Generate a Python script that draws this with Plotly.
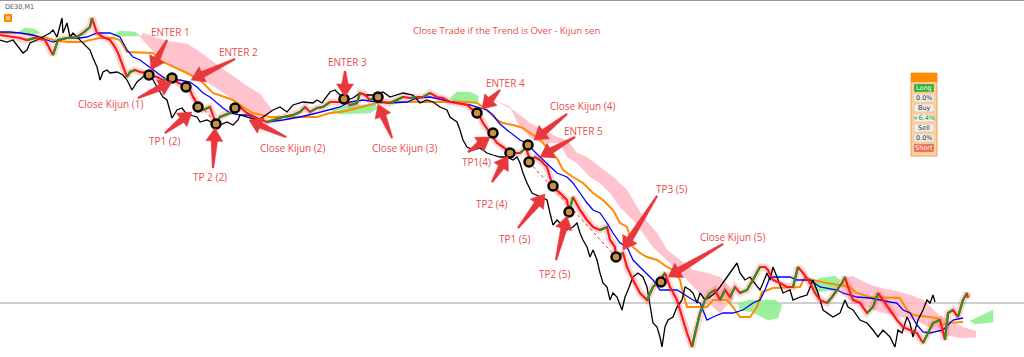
import math
import plotly.graph_objects as go

# ---------------- data (x = bar position, y = price level in chart units, top = 0) -------------
chikou = [(0,40),(7,42),(13,40),(18,47),(23,53),(27,50),(30,43),(37,40),(50,33),(53,30),(57,37),(62,18),
          (63,33),(67,23),(70,37),(73,33),(80,40),(83,42),(87,47),(90,50),(93,58),(97,67),(100,80),(103,72),
          (107,70),(110,73),(117,72),(123,75),(127,80),(132,90),(137,82),(143,77),(147,75),(152,78),(157,87),
          (163,97),(167,100),(170,110),(172,118),(177,110),(182,108),(185,112),(190,115),(197,117),(200,122),
          (207,120),(213,123),(220,125),(227,122),(233,125),(238,120),(240,115),(250,118),(257,120),(263,117),
          (273,110),(280,107),(287,112),(293,105),(303,102),(313,103),(317,100),(322,103),(330,92),(335,90),
          (340,95),(347,100),(353,98),(360,93),(367,95),(373,95),(380,93),(383,92),(390,97),(397,95),(403,93),
          (413,95),(420,103),(427,100),(433,102),(440,107),(447,110),(450,117),(457,122),(460,130),(463,140),
          (467,147),(473,150),(480,148),(487,153),(493,155),(500,157),(507,157),(513,160),(517,157),(520,163),
          (523,173),(527,183),(532,193),(540,197),(547,200),(550,213),(553,225),(557,220),(560,223),(567,230),
          (573,227),(577,223),(580,233),(583,240),(587,247),(590,257),(593,250),(597,260),(600,273),(603,283),
          (607,287),(610,300),(613,293),(617,297),(622,310),(625,297),(628,290),(633,277),(638,273),(643,277),
          (647,287),(650,307),(653,323),(657,327),(660,337),(662,347),(665,327),(668,320),(673,317),(677,307),
          (682,300),(685,287),(690,290),(693,293),(697,303),(700,293),(705,300),(710,297),(715,293),(720,287),
          (727,277),(732,270),(737,263),(740,273),(745,280),(750,277),(757,287),(760,290),(763,283),(767,273),
          (770,280),(773,267),(777,277),(783,293),(790,290),(793,300),(800,297),(807,295),(813,280),(818,293),
          (823,310),(827,313),(833,317),(840,313),(845,300),(848,307),(853,310),(860,320),(867,323),(873,330),
          (878,337),(883,330),(890,337),(895,347),(898,330),(902,333),(907,317),(910,323),(913,337),(918,320),
          (923,310),(927,300),(930,303),(933,295),(935,302)]

price = [(0,35),(7,36),(13,37),(20,38),(27,40),(35,38),(45,40),(53,55),(58,40),(67,38),(77,37),(83,33),
         (90,27),(92,18),(97,33),(103,37),(110,40),(115,47),(118,53),(123,67),(127,77),(130,72),(135,70),
         (140,72),(147,73),(149,75),(157,77),(163,80),(170,78),(172,78),(177,82),(183,85),(186,87),(190,90),
         (193,97),(198,105),(203,110),(210,107),(216,124),(220,117),(230,113),(235,110),(240,107),(247,113),
         (257,118),(267,122),(273,120),(283,117),(293,115),(300,112),(305,107),(310,112),(317,108),(323,107),
         (330,102),(340,102),(344,99),(350,105),(357,103),(360,93),(365,95),(370,100),(377,97),(383,102),
         (390,103),(397,100),(403,97),(410,98),(417,97),(423,97),(430,93),(437,97),(443,98),(450,102),
         (457,103),(467,105),(473,110),(478,113),(483,123),(490,133),(497,143),(503,147),(511,153),(520,153),
         (526,148),(530,160),(535,157),(540,160),(547,167),(553,187),(560,193),(567,200),(569,212),(573,197),
         (580,210),(587,220),(593,227),(600,230),(607,227),(610,240),(615,247),(616,257),(623,253),(627,267),
         (633,280),(640,293),(647,300),(653,287),(660,280),(665,273),(670,287),(677,300),(682,317),(687,333),
         (692,347),(695,333),(700,313),(705,300),(710,293),(715,290),(720,300),(725,290),(730,297),(735,287),
         (740,293),(747,290),(753,280),(760,267),(765,267),(768,270),(773,280),(780,283),(787,287),(793,287),
         (798,267),(803,273),(810,283),(815,293),(820,300),(827,303),(832,297),(837,290),(842,283),(845,277),
         (848,287),(853,300),(860,303),(867,313),(873,307),(878,293),(883,300),(890,310),(897,320),(903,327),
         (910,330),(917,333),(923,343),(928,333),(933,323),(940,320),(945,340),(948,313),(953,310),(958,317),
         (963,300),(967,293),(968,298)]

tenkan = [(0,32),(10,32),(20,33),(33,35),(47,40),(53,42),(67,38),(80,38),(87,37),(97,33),(110,33),(120,37),
          (127,50),(133,57),(140,60),(147,65),(153,70),(160,75),(167,80),(180,80),(190,82),(197,87),(203,93),
          (210,97),(217,103),(223,108),(230,113),(240,115),(247,115),(267,122),(283,120),(300,117),(317,113),
          (330,110),(340,107),(350,102),(363,100),(377,102),(390,103),(407,102),(417,98),(430,97),(443,100),
          (457,103),(470,105),(480,108),(487,110),(493,115),(500,124),(507,130),(513,135),(520,140),(527,143),
          (533,150),(540,157),(550,167),(557,173),(567,177),(573,183),(580,193),(587,203),(593,210),(600,213),
          (607,223),(613,233),(620,243),(627,247),(633,260),(640,267),(647,273),(653,280),(660,290),(677,290),
          (682,293),(688,297),(693,300),(700,303),(707,320),(713,317),(723,313),(733,313),(743,310),(753,303),
          (760,300),(765,290),(770,277),(790,277),(797,280),(810,280),(820,287),(837,290),(843,293),(857,297),
          (870,298),(890,302),(897,303),(903,310),(910,313),(917,325),(923,332),(930,333),(943,330),(953,320),
          (963,318)]

kijun = [(0,33),(20,33),(30,35),(47,38),(53,40),(67,42),(83,42),(90,40),(100,38),(113,38),(120,40),(127,52),
         (153,53),(163,62),(187,73),(200,80),(213,93),(233,100),(243,107),(253,113),(270,117),(317,117),
         (330,113),(340,112),(350,110),(363,107),(377,103),(390,102),(467,102),(477,103),(483,107),(490,113),
         (497,120),(503,123),(513,125),(523,128),(533,135),(540,140),(550,150),(558,160),(563,170),(573,177),
         (583,183),(593,193),(603,200),(613,210),(620,223),(627,227),(630,237),(633,247),(640,253),(647,257),
         (657,260),(667,267),(673,270),(680,280),(683,293),(687,307),(707,307),(713,300),(727,300),(733,307),
         (740,317),(750,317),(757,307),(762,292),(773,288),(800,287),(805,277),(813,280),(827,283),(840,285),
         (850,287),(857,293),(870,297),(900,298),(907,310),(913,315),(937,318),(942,325),(947,323),(963,322)]

# Kumo (cloud) outlines: bearish (pink) and bullish (green) parts
kumo_bear = [
    [(140,37),(143,33),(157,38),(167,41),(187,44),(200,52),(217,65),(233,76),(247,86),(260,94),(272,110),
     (268,115),(258,115),(247,108),(227,95),(207,82),(187,74),(167,63),(153,51)],
    [(483,95),(500,103),(513,110),(530,123),(543,130),(557,137),(567,140),(577,153),(587,157),(600,167),
     (613,177),(627,190),(633,200),(643,217),(657,233),(667,250),(680,260),(693,270),(707,273),(720,277),
     (733,290),(733,300),(727,305),(720,313),(713,307),(700,293),(687,280),(677,270),(667,260),(653,247),
     (643,233),(633,220),(620,207),(610,193),(600,183),(590,177),(577,163),(567,157),(560,143),(547,143),
     (533,140),(520,127),(510,107),(495,100)],
    [(843,280),(852,276),(870,285),(885,289),(900,292),(913,296),(923,300),(932,308),(940,316),(952,322),
     (965,328),(976,331),(976,337),(960,338),(945,335),(935,330),(925,325),(915,320),(905,318),(895,315),
     (880,312),(862,305),(850,300),(841,293)]]
kumo_bull = [
    [(17,33),(25,28),(35,29),(40,33),(35,34),(20,34)],
    [(113,35),(120,31),(135,32),(140,36),(125,36),(113,36)],
    [(330,110),(345,106),(375,104),(378,108),(370,113),(340,114)],
    [(450,98),(457,92),(470,92),(478,96),(478,102),(455,102)],
    [(738,303),(750,300),(775,300),(782,305),(778,318),(768,320),(752,312),(740,310)],
    [(810,285),(820,278),(835,276),(840,280),(835,290),(815,292)],
    [(970,321),(983,315),(993,310),(993,322),(975,324)]]

# Trade marks (entries / exits)
trade_x = [149,172,186,198,216,235,344,378,477,493,510,528,529,553,569,616,661]
trade_y = [75,78,87,107,124,108,99,97,113,133,153,145,162,186,212,257,282]

# Dotted trade paths
trade_paths = [[(186,87),(216,124)], [(529,162),(616,257)]]

# Labels: text, label position, arrow tail, arrow tip
labels = ["ENTER 1","ENTER 2","Close Kijun (1)","TP1 (2)","TP 2 (2)","Close Kijun (2)","ENTER 3",
          "Close Kijun (3)","ENTER 4","Close Kijun (4)","ENTER 5","TP1(4)","TP2 (4)","TP1 (5)","TP2 (5)",
          "TP3 (5)","Close Kijun (5)"]
label_pos = [(170,32),(238,52),(111,104),(165,141),(210,177),(293,148),(347,62),(405,148),(505,83),(583,106),
             (583,131),(476,162),(492,204),(515,239),(555,274),(672,189),(733,237)]
arrow_tail = [(167,40),(235,59),(138,98),(165,133),(213,168),(286,137),(345,71),(392,138),(500,90),(567,114),
              (575,137),(468,152),(492,182),(518,228),(556,260),(657,196),(723,244)]
arrow_tip = [(151,70),(191,80),(172,82),(192,112),(215,128),(249,120),(345,97),(378,104),(482,109),(534,140),
             (540,157),(490,137),(508,156),(545,194),(567,216),(623,250),(668,277)]

panel_labels = ["Long","0.0%","Buy","+6.4%","Sell","0.0%","Short"]

# ---------------- figure ----------------
RED = "#ff1a1a"
LBL = "#ec4b4b"
ARW = "#e8383c"
fig = go.Figure()

for poly in kumo_bear:
    xs = [p[0] for p in poly] + [poly[0][0]]
    ys = [p[1] for p in poly] + [poly[0][1]]
    fig.add_trace(go.Scatter(x=xs, y=ys, mode="lines", fill="toself", fillcolor="rgba(255,185,197,0.85)",
                             line=dict(color="rgba(255,185,197,0.6)", width=0.5), hoverinfo="skip"))
for poly in kumo_bull:
    xs = [p[0] for p in poly] + [poly[0][0]]
    ys = [p[1] for p in poly] + [poly[0][1]]
    fig.add_trace(go.Scatter(x=xs, y=ys, mode="lines", fill="toself", fillcolor="rgba(144,238,144,0.9)",
                             line=dict(color="rgba(144,238,144,0.8)", width=0.5), hoverinfo="skip"))

px = [p[0] for p in price]
py = [p[1] for p in price]
# candle haze
fig.add_trace(go.Scatter(x=px, y=py, mode="lines", line=dict(color="rgba(255,60,60,0.22)", width=7),
                         hoverinfo="skip"))
fig.add_trace(go.Scatter(x=[p[0] for p in kijun], y=[p[1] for p in kijun], mode="lines",
                         line=dict(color="#ff8c00", width=2), hoverinfo="skip"))
fig.add_trace(go.Scatter(x=[p[0] for p in tenkan], y=[p[1] for p in tenkan], mode="lines",
                         line=dict(color="#0000ff", width=1.3), hoverinfo="skip"))
fig.add_trace(go.Scatter(x=[p[0] for p in chikou], y=[p[1] for p in chikou], mode="lines",
                         line=dict(color="#000000", width=1.3), hoverinfo="skip"))
fig.add_trace(go.Scatter(x=px, y=py, mode="lines", line=dict(color=RED, width=2.2), hoverinfo="skip"))
# rising segments drawn green
gx, gy = [], []
for i in range(1, len(price)):
    if py[i] < py[i-1]:
        gx += [px[i-1], px[i], None]
        gy += [py[i-1], py[i], None]
fig.add_trace(go.Scatter(x=gx, y=gy, mode="lines", line=dict(color="#1a9a1a", width=2), hoverinfo="skip"))

for path in trade_paths:
    fig.add_trace(go.Scatter(x=[p[0] for p in path], y=[p[1] for p in path], mode="lines",
                             line=dict(color=RED, width=1, dash="dot"), hoverinfo="skip"))

fig.add_trace(go.Scatter(x=trade_x, y=trade_y, mode="markers",
                         marker=dict(symbol="circle", size=9, color="#c89040",
                                     line=dict(color="black", width=2.5)), hoverinfo="skip"))


def spear(tail, tip):
    dx, dy = tip[0] - tail[0], tip[1] - tail[1]
    L = math.hypot(dx, dy)
    ux, uy = dx / L, dy / L
    nx, ny = -uy, ux
    head = 13.0
    bx, by = tip[0] - ux * head, tip[1] - uy * head
    pts = [(tail[0] + nx * 0.8, tail[1] + ny * 0.8),
           (bx + nx * 3.2, by + ny * 3.2),
           (bx + nx * 8.5, by + ny * 8.5),
           tip,
           (bx - nx * 8.5, by - ny * 8.5),
           (bx - nx * 3.2, by - ny * 3.2),
           (tail[0] - nx * 0.8, tail[1] - ny * 0.8)]
    return "M " + " L ".join(f"{x:.2f},{y:.2f}" for x, y in pts) + " Z"


shapes = []
for t, lp, tl, tp in zip(labels, label_pos, arrow_tail, arrow_tip):
    shapes.append(dict(type="path", path=spear(tl, tp), xref="x", yref="y",
                       fillcolor=ARW, line=dict(color=ARW, width=0.5), layer="above"))
    fig.add_annotation(x=lp[0], y=lp[1], xref="x", yref="y", text=t, showarrow=False,
                       font=dict(family="Open Sans", size=10, color=LBL))

fig.add_annotation(x=506, y=30, xref="x", yref="y", text="Close Trade if the Trend is Over - Kijun sen",
                   showarrow=False, font=dict(family="Open Sans", size=9.5, color=LBL))

# symbol caption + icon
fig.add_annotation(x=3, y=7, xref="x", yref="y", text="DE30,M1", showarrow=False, xanchor="left",
                   font=dict(family="DejaVu Sans", size=6.5, color="#555555"))
shapes += [
    dict(type="rect", x0=4, x1=12, y0=14, y1=22, fillcolor="#ff8c00", line=dict(width=0), layer="above"),
    dict(type="line", x0=6, x1=10, y0=17, y1=17, line=dict(color="white", width=1)),
    dict(type="line", x0=6, x1=10, y0=19, y1=19, line=dict(color="white", width=1)),
    dict(type="line", x0=0, x1=1024, y0=0.5, y1=0.5, line=dict(color="#999999", width=1)),
    dict(type="line", x0=0, x1=1024, y0=303, y1=303, line=dict(color="#a0a0a0", width=1), layer="below"),
    # trade panel
    dict(type="rect", x0=911, x1=937, y0=73, y1=156, fillcolor="#fbd3a8", line=dict(color="#f5a050", width=1)),
    dict(type="rect", x0=911, x1=937, y0=73, y1=82, fillcolor="#ff8c00", line=dict(width=0)),
]
fills = ["#2cb02c", "#eeeeee", "#eeeeee", "#eeeeee", "#eeeeee", "#eeeeee", "#e8695a"]
tcols = ["white", "#333333", "#333333", "#2a9a2a", "#333333", "#333333", "white"]
for i, (lab, fc, tc) in enumerate(zip(panel_labels, fills, tcols)):
    y0 = 84 + 10 * i
    shapes.append(dict(type="rect", x0=914, x1=934, y0=y0, y1=y0 + 8, fillcolor=fc,
                       line=dict(color="#f0b070", width=0.5)))
    fig.add_annotation(x=924, y=y0 + 4, xref="x", yref="y", text=lab, showarrow=False,
                       font=dict(family="DejaVu Sans", size=6.5, color=tc))

fig.update_layout(
    width=1024, height=357, margin=dict(l=0, r=0, t=0, b=0),
    paper_bgcolor="white", plot_bgcolor="white", showlegend=False, shapes=shapes,
    xaxis=dict(range=[0, 1024], visible=False, fixedrange=True),
    yaxis=dict(range=[357, 0], visible=False, fixedrange=True),
)
fig.write_html("out.html", config={"displayModeBar": False})
